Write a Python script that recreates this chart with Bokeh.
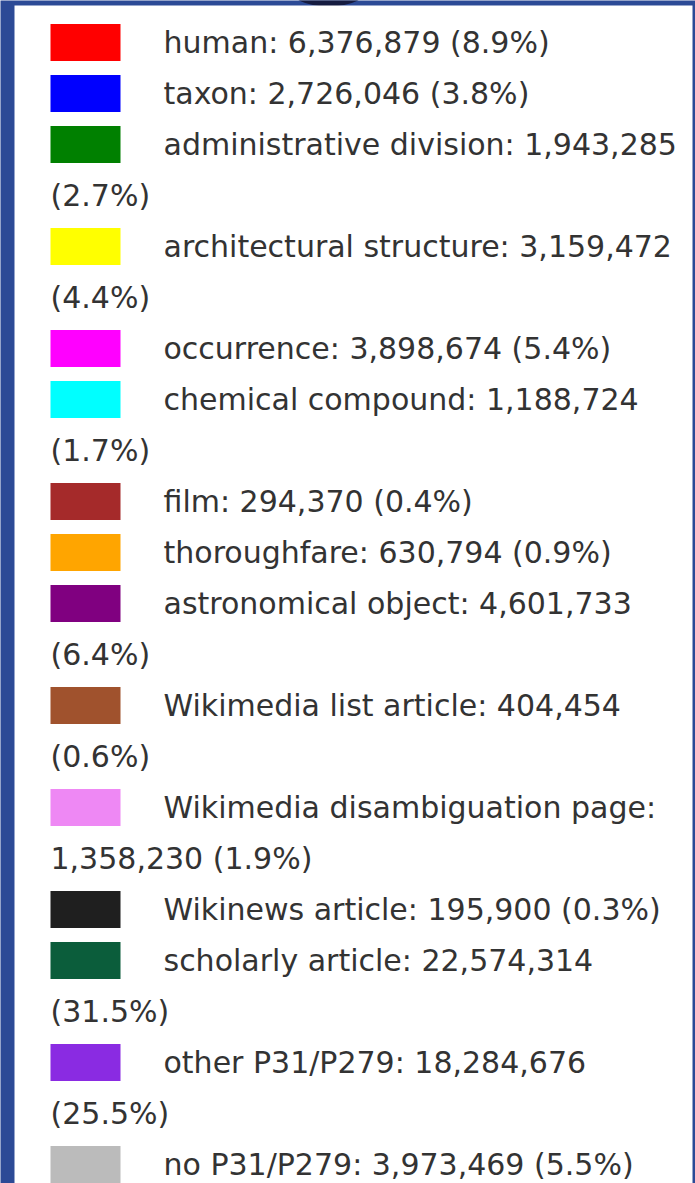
from bokeh.plotting import figure
from bokeh.models import ColumnDataSource, Range1d
from bokeh.core.properties import value
from bokeh.embed import file_html
from bokeh.resources import INLINE

# ---- data ----
names = ["human", "taxon", "administrative division", "architectural structure",
         "occurrence", "chemical compound", "film", "thoroughfare",
         "astronomical object", "Wikimedia list article",
         "Wikimedia disambiguation page", "Wikinews article",
         "scholarly article", "other P31/P279", "no P31/P279"]
counts = [6376879, 2726046, 1943285, 3159472, 3898674, 1188724, 294370, 630794,
          4601733, 404454, 1358230, 195900, 22574314, 18284676, 3973469]
pcts = [8.9, 3.8, 2.7, 4.4, 5.4, 1.7, 0.4, 0.9, 6.4, 0.6, 1.9, 0.3, 31.5, 25.5, 5.5]
colors = ["#ff0000", "#0000ff", "#008000", "#ffff00", "#ff00ff", "#00ffff",
          "#a52a2a", "#ffa500", "#800080", "#a0522d", "#ee88f4", "#1f1f1f",
          "#0b5d3b", "#8a2be2", "#bbbbbb"]

# ---- layout helpers ----
FONT_PX = 30
W = {' ': 651, '%': 1946, '(': 799, ')': 799, ',': 651, '.': 651, '/': 690, ':': 690,
     'P': 1235, 'W': 2025,
     'a': 1255, 'b': 1300, 'c': 1126, 'd': 1300, 'e': 1260, 'f': 721, 'g': 1300,
     'h': 1298, 'i': 569, 'j': 569, 'k': 1186, 'l': 569, 'm': 1995, 'n': 1298,
     'o': 1253, 'p': 1300, 'q': 1300, 'r': 842, 's': 1067, 't': 803, 'u': 1298,
     'v': 1212, 'w': 1675, 'x': 1212, 'y': 1212, 'z': 1075}
for d in "0123456789":
    W[d] = 1303


def tw(s):
    return sum(W.get(c, 1300) for c in s) / 2048 * FONT_PX


FIRST_X, FIRST_W = 163, 535
WRAP_X, WRAP_W = 50, 640
Y0, PITCH = 42, 51

sw_x, sw_y, sw_c = [], [], []
tx, ty, tt = [], [], []
line = 0
for n, c, pc, col in zip(names, counts, pcts, colors):
    label = f"{n}: {c:,} ({pc:.1f}%)"
    words = label.split(" ")
    lines = []
    cur = ""
    limit = FIRST_W
    for wd in words:
        cand = wd if cur == "" else cur + " " + wd
        if tw(cand) <= limit or cur == "":
            cur = cand
        else:
            lines.append(cur)
            cur = wd
            limit = WRAP_W
    lines.append(cur)
    y = Y0 + line * PITCH
    sw_x.append(85)
    sw_y.append(y)
    sw_c.append(col)
    for k, ln in enumerate(lines):
        tx.append(FIRST_X if k == 0 else WRAP_X)
        ty.append(Y0 + line * PITCH)
        tt.append(ln)
        line += 1

p = figure(width=695, height=1183, output_backend="svg", toolbar_location=None,
           x_range=Range1d(0, 695), y_range=Range1d(1183, 0), min_border=0)
p.axis.visible = False
p.grid.visible = False
p.outline_line_color = None
p.background_fill_color = "#2c4a96"
p.border_fill_color = "#2c4a96"

p.ellipse(x=[328], y=[-14], width=[82], height=[40], fill_color="#151b40",
          line_color=None)
p.quad(left=[14], right=[692], top=[5], bottom=[1200], fill_color="white",
       line_color=None)

p.rect(x="x", y="y", width=70, height=37, fill_color="c", line_color=None,
       source=ColumnDataSource(dict(x=sw_x, y=sw_y, c=sw_c)))
p.text(x="x", y="y", text="t", source=ColumnDataSource(dict(x=tx, y=ty, t=tt)),
       text_font=value("DejaVu Sans"), text_font_size=f"{FONT_PX}px",
       text_color="#333333", text_baseline="middle", text_align="left")

open("out.html", "w").write(file_html(p, INLINE))
